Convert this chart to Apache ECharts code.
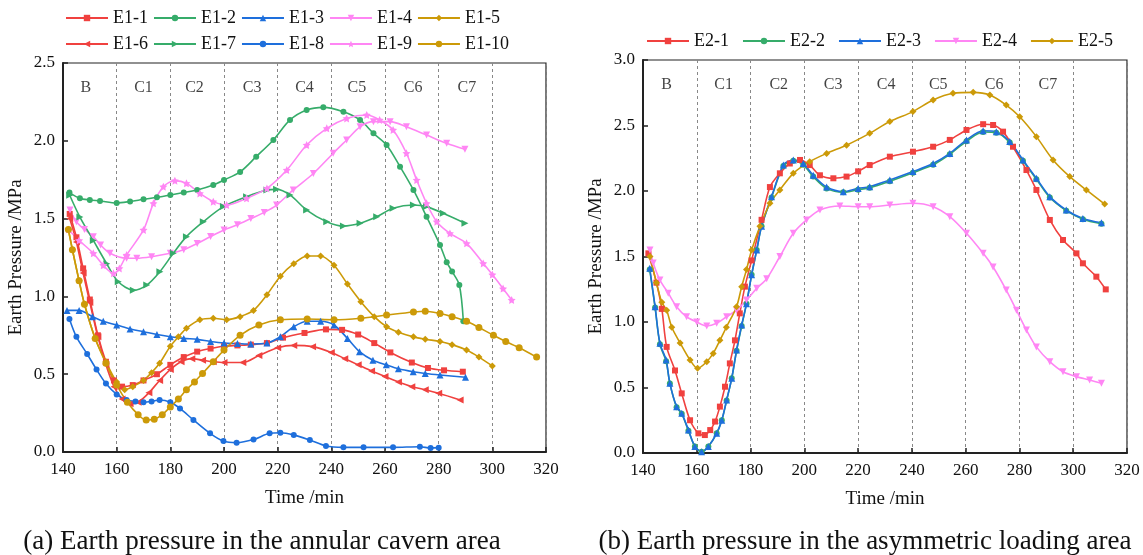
<!DOCTYPE html>
<html>
<head>
<meta charset="utf-8">
<script src="https://cdn.jsdelivr.net/npm/echarts@6/dist/echarts.min.js"></script>
<style>
  html, body { margin: 0; padding: 0; background: #fff; }
  #chart { width: 1143px; height: 555px; }
</style>
</head>
<body>
<div id="chart"></div>
<script>
// tick / region labels
var regionNames = ['B', 'C1', 'C2', 'C3', 'C4', 'C5', 'C6', 'C7'];
var regionPosA = [148.5, 170, 189, 210.5, 230, 249.5, 270.5, 290.5];
var regionPosB = [148.8, 170, 190.5, 210.7, 230.4, 249.8, 270.6, 290.6];

// (a) annular cavern area  [time min, pressure MPa]
var e1_1 = [[142.5,1.53],[145,1.38],[147.5,1.18],[150,0.98],[153,0.75],[156,0.58],[159,0.46],[162,0.42],[166,0.43],[170,0.46],[175,0.50],[180,0.56],[185,0.61],[190,0.645],[195,0.665],[200,0.68],[205,0.685],[210,0.69],[216,0.70],[222,0.735],[230,0.765],[238,0.788],[244,0.785],[250,0.755],[256,0.70],[262,0.64],[270,0.575],[276,0.54],[282,0.525],[289,0.516]];
var e1_2 = [[142.4,1.667],[146.3,1.63],[150,1.62],[153.8,1.613],[160,1.60],[165,1.61],[170,1.624],[175,1.637],[180,1.652],[185,1.668],[190,1.684],[196,1.716],[200,1.748],[206,1.80],[212,1.898],[218.4,2.005],[224.6,2.134],[230.8,2.198],[237,2.215],[244.5,2.187],[250.7,2.134],[255.7,2.048],[260.6,1.973],[265.6,1.834],[270.6,1.684],[275.5,1.512],[280.5,1.33],[283,1.22],[285,1.16],[287.7,1.073],[289.2,0.84]];
var e1_3 = [[141.5,0.91],[146,0.91],[151,0.87],[155,0.84],[160,0.816],[165,0.79],[170,0.773],[175,0.755],[180,0.741],[185,0.73],[190,0.724],[195,0.71],[200,0.70],[205,0.697],[210,0.694],[216,0.70],[221,0.741],[226,0.805],[231,0.84],[236,0.84],[241,0.816],[246,0.73],[250.5,0.645],[255.5,0.59],[260.5,0.56],[265,0.535],[270.5,0.516],[275,0.505],[280.5,0.495],[290,0.48]];
var e1_4 = [[142.6,1.555],[145,1.48],[148,1.43],[151.3,1.384],[154,1.33],[157.5,1.277],[163.7,1.245],[167.5,1.245],[173,1.255],[180,1.277],[185,1.30],[190,1.34],[195,1.385],[200,1.427],[205,1.46],[210,1.50],[215,1.54],[219.6,1.587],[225.8,1.684],[233.3,1.79],[240.7,1.92],[245.7,2.005],[250.7,2.09],[255.7,2.123],[261.9,2.123],[268,2.09],[275.5,2.037],[283,1.984],[289.8,1.945]];
var e1_5 = [[142,1.43],[143.5,1.30],[146,1.10],[148,0.95],[152,0.73],[156,0.58],[160,0.45],[163,0.40],[166,0.42],[170,0.46],[173,0.51],[176,0.57],[180,0.68],[183,0.74],[186,0.795],[191,0.85],[196,0.86],[201,0.85],[206,0.87],[211,0.91],[216,1.01],[221,1.13],[226,1.21],[231,1.26],[236,1.26],[241,1.20],[246,1.08],[251,0.966],[256,0.87],[260.6,0.805],[265,0.77],[270.6,0.74],[275,0.725],[280.5,0.71],[285,0.69],[290.4,0.655],[295,0.61],[300,0.553]];
var e1_6 = [[142.5,1.50],[145,1.35],[147.5,1.15],[150,0.96],[153,0.74],[156,0.56],[159,0.42],[162,0.34],[165,0.31],[168,0.32],[172,0.38],[176,0.46],[180,0.53],[184,0.58],[188,0.60],[192,0.59],[196,0.58],[200,0.575],[207,0.575],[213,0.62],[220,0.67],[226,0.685],[233,0.677],[240,0.64],[245,0.60],[250,0.56],[255,0.52],[260,0.485],[265,0.45],[270,0.42],[275,0.40],[280,0.377],[288,0.334]];
var e1_7 = [[142.5,1.65],[146.3,1.51],[151.3,1.36],[156.3,1.21],[160.6,1.094],[166.2,1.04],[171.2,1.073],[176.1,1.159],[181.1,1.277],[186,1.384],[192.3,1.48],[199.8,1.577],[208.4,1.641],[216,1.684],[219.6,1.688],[224.6,1.652],[230.8,1.555],[238.3,1.48],[244.5,1.452],[250.7,1.47],[256.9,1.512],[263,1.566],[270.6,1.587],[275.5,1.577],[281.7,1.534],[289.8,1.47]];
var e1_8 = [[142.4,0.855],[145,0.74],[149,0.63],[152.5,0.53],[156,0.44],[160,0.37],[163.7,0.334],[167,0.325],[170,0.32],[173,0.325],[176,0.334],[180,0.32],[183.6,0.28],[188.6,0.206],[194.8,0.12],[199.8,0.07],[204.7,0.06],[211,0.08],[217,0.12],[221,0.124],[226,0.11],[232,0.077],[238,0.039],[244.5,0.03],[252,0.03],[263,0.03],[273,0.034],[277,0.025],[280,0.028]];
var e1_9 = [[142,1.43],[146,1.36],[151.3,1.277],[155,1.20],[158.8,1.148],[161,1.18],[163.7,1.266],[170,1.427],[173.7,1.598],[177.4,1.705],[181.7,1.744],[186,1.727],[191,1.662],[196,1.609],[201,1.587],[208.4,1.63],[216,1.694],[223.4,1.812],[230.8,1.973],[238.3,2.08],[245.7,2.144],[253.2,2.166],[258,2.134],[263,2.07],[268,1.92],[271.8,1.748],[275.5,1.598],[279.3,1.48],[284.2,1.405],[290.4,1.341],[296.6,1.212],[300,1.14],[304,1.05],[307.2,0.977]];
var e1_10 = [[142,1.43],[143.5,1.30],[146,1.10],[148,0.95],[152,0.73],[156,0.57],[160,0.43],[164,0.32],[168,0.24],[171,0.205],[174,0.21],[177,0.24],[180,0.29],[183,0.34],[186,0.40],[189,0.45],[192,0.505],[196,0.58],[200,0.655],[206,0.75],[213,0.816],[221,0.85],[231,0.855],[241,0.85],[251,0.86],[260.6,0.88],[270.6,0.90],[275,0.905],[280.5,0.89],[285,0.87],[290.4,0.84],[295,0.80],[300.4,0.75],[305,0.71],[310,0.67],[316.5,0.61]];

// (b) asymmetric loading area
var e2_1 = [[142,1.524],[145,1.30],[147,1.10],[148.8,0.81],[151.9,0.63],[154.4,0.455],[157.5,0.25],[160.6,0.15],[163,0.137],[165,0.175],[166.8,0.24],[168.6,0.354],[170.5,0.506],[172.3,0.684],[174.2,0.86],[176,1.066],[177.9,1.27],[180.4,1.47],[184.1,1.78],[187.2,2.03],[190.9,2.135],[194.6,2.21],[198.4,2.237],[202,2.198],[205.8,2.12],[210.8,2.097],[215.7,2.11],[220,2.15],[224.3,2.198],[231.8,2.262],[240.4,2.30],[247.9,2.338],[254.1,2.39],[260.3,2.466],[266.5,2.51],[270.2,2.504],[273.9,2.453],[277.6,2.338],[282.6,2.16],[286.3,2.008],[291.3,1.779],[296.2,1.626],[301.2,1.524],[303.6,1.448],[308.6,1.346],[312.1,1.249]];
var e2_2 = [[142.5,1.40],[144.5,1.11],[146.3,0.83],[148.6,0.70],[150,0.53],[152.5,0.35],[154.4,0.30],[156.9,0.17],[159.3,0.05],[161.8,0.01],[164.3,0.05],[167.4,0.15],[169.3,0.25],[171.1,0.40],[173,0.57],[174.8,0.78],[176.7,0.97],[178.5,1.14],[180.4,1.36],[182.3,1.55],[184.1,1.73],[187.8,1.95],[192.2,2.19],[195.9,2.23],[199.6,2.20],[203.3,2.11],[208.3,2.02],[214.5,1.99],[220,2.01],[224.3,2.025],[231.8,2.075],[240.4,2.14],[247.9,2.20],[254.1,2.28],[260.3,2.38],[266.5,2.45],[271.4,2.445],[276.4,2.37],[281.3,2.23],[286.3,2.09],[291.3,1.95],[297.4,1.85],[303.6,1.785],[310.5,1.75]];
var e2_3 = [[142.5,1.41],[144.5,1.117],[146.3,0.837],[148.6,0.71],[150,0.532],[152.5,0.354],[154.4,0.303],[156.9,0.176],[159.3,0.05],[161.8,0.01],[164.3,0.05],[167.4,0.15],[169.3,0.25],[171.1,0.405],[173,0.57],[174.8,0.786],[176.7,0.977],[178.5,1.14],[180.4,1.36],[182.3,1.55],[184.1,1.73],[187.8,1.957],[192.2,2.198],[195.9,2.237],[199.6,2.21],[203.3,2.12],[208.3,2.03],[214.5,1.995],[220,2.02],[224.3,2.033],[231.8,2.084],[240.4,2.148],[247.9,2.21],[254.1,2.287],[260.3,2.39],[266.5,2.46],[271.4,2.453],[276.4,2.377],[281.3,2.237],[286.3,2.097],[291.3,1.957],[297.4,1.855],[303.6,1.79],[310.5,1.757]];
var e2_4 = [[142.6,1.55],[143.8,1.45],[146.3,1.32],[149.4,1.22],[152.5,1.117],[156.2,1.04],[160,1.0],[163.7,0.97],[167.4,0.99],[171.1,1.04],[174.8,1.09],[178.5,1.168],[182.3,1.257],[186,1.33],[190.9,1.50],[195.9,1.677],[200.8,1.779],[205.8,1.855],[213.2,1.886],[220,1.88],[224.3,1.88],[231.8,1.893],[240.4,1.906],[247.9,1.88],[254.1,1.804],[260.3,1.677],[266.5,1.524],[270.2,1.42],[275.1,1.244],[278.9,1.09],[282.6,0.939],[286.3,0.81],[291.3,0.697],[296.2,0.62],[301.2,0.583],[306.1,0.557],[310.5,0.532]];
var e2_5 = [[142.6,1.50],[145,1.30],[147,1.15],[148.8,1.09],[150.7,0.96],[153.8,0.84],[157.5,0.71],[160.3,0.646],[163.7,0.697],[166.1,0.76],[168.6,0.86],[171,0.96],[174.8,1.117],[176.7,1.27],[178.5,1.40],[180.4,1.55],[183.5,1.73],[187.2,1.906],[190.9,2.008],[195.9,2.135],[202,2.224],[208.3,2.287],[215.7,2.35],[224.3,2.44],[231.8,2.53],[240.4,2.606],[247.9,2.695],[255.3,2.746],[262.8,2.753],[269,2.733],[275.1,2.656],[280.1,2.567],[286.3,2.415],[292.5,2.237],[298.7,2.11],[304.9,2.008],[311.7,1.90]];

var FONT = '"Liberation Serif", "Times New Roman", serif';
var RED = '#F0413F', GREEN = '#36AC6A', BLUE = '#1E6FDC', PINK = '#FF86F4', GOLD = '#CC9A08';
var STAR = 'path://M0,-10L2.9,-4L9.5,-3.1L4.8,1.5L5.9,8.1L0,5L-5.9,8.1L-4.8,1.5L-9.5,-3.1L-2.9,-4Z';

function line(name, data, color, symbol, rot, idx, size) {
    return {
        name: name,
        type: 'line',
        xAxisIndex: idx,
        yAxisIndex: idx,
        data: data,
        smooth: 0.3,
        symbol: symbol,
        symbolRotate: rot,
        symbolSize: size || 6,
        showSymbol: true,
        animation: false,
        lineStyle: { color: color, width: 1.6 },
        itemStyle: { color: color }
    };
}

function regionLabels(names, pos, y, idx) {
    var d = [];
    for (var i = 0; i < names.length; i++) d.push([pos[i], y, names[i]]);
    return {
        type: 'scatter',
        xAxisIndex: idx,
        yAxisIndex: idx,
        data: d,
        symbolSize: 1,
        silent: true,
        animation: false,
        itemStyle: { color: 'rgba(0,0,0,0)' },
        label: {
            show: true,
            position: 'inside',
            formatter: function (p) { return p.value[2]; },
            fontFamily: FONT,
            fontSize: 16,
            color: '#111'
        }
    };
}

function xAx(idx) {
    return {
        type: 'value',
        gridIndex: idx,
        min: 140, max: 320, interval: 20,
        name: 'Time /min',
        nameLocation: 'middle',
        nameGap: 37,
        nameTextStyle: { fontFamily: FONT, fontSize: 19, color: '#111' },
        axisLine: { lineStyle: { color: '#222', width: 2 } },
        axisTick: { inside: true, length: 5, lineStyle: { color: '#222', width: 1.5 } },
        axisLabel: { fontFamily: FONT, fontSize: 17, color: '#111', margin: 9 },
        splitLine: { show: true, lineStyle: { color: '#888', type: [3, 3], width: 1 } }
    };
}

function yAx(idx, max) {
    return {
        type: 'value',
        gridIndex: idx,
        min: 0, max: max, interval: 0.5,
        name: 'Earth Pressure /MPa',
        nameLocation: 'middle',
        nameGap: 37,
        nameTextStyle: { fontFamily: FONT, fontSize: 19, color: '#111' },
        axisLine: { show: true, lineStyle: { color: '#222', width: 2 } },
        axisTick: { show: true, inside: true, length: 5, lineStyle: { color: '#222', width: 1.5 } },
        axisLabel: { fontFamily: FONT, fontSize: 17, color: '#111', margin: 8,
            formatter: function (v) { return v.toFixed(1); } },
        splitLine: { show: false }
    };
}

function legend(names, left, top, gap) {
    return {
        data: names,
        left: left, top: top,
        itemWidth: 42, itemHeight: 8, itemGap: gap,
        textStyle: { fontFamily: FONT, fontSize: 18, color: '#111' }
    };
}

var chart = echarts.init(document.getElementById('chart'));
var option = {
    backgroundColor: '#fff',
    animation: false,
    legend: [
        legend(['E1-1', 'E1-2', 'E1-3', 'E1-4', 'E1-5'], 60, 4, 5),
        legend(['E1-6', 'E1-7', 'E1-8', 'E1-9', 'E1-10'], 60, 30, 5),
        legend(['E2-1', 'E2-2', 'E2-3', 'E2-4', 'E2-5'], 641, 27, 13)
    ],
    grid: [
        { left: 63, top: 63, width: 483, height: 389, show: true, borderColor: '#222', borderWidth: 1.2, containLabel: false },
        { left: 643, top: 60, width: 484, height: 393, show: true, borderColor: '#222', borderWidth: 1.2, containLabel: false }
    ],
    xAxis: [xAx(0), xAx(1)],
    yAxis: [yAx(0, 2.5), yAx(1, 3.0)],
    graphic: [
        { type: 'text', x: 262, y: 542, style: { text: '(a) Earth pressure in the annular cavern area', font: '27px ' + FONT, fill: '#111', align: 'center', verticalAlign: 'middle' } },
        { type: 'text', x: 865, y: 542, style: { text: '(b) Earth pressure in the asymmetric loading area', font: '27px ' + FONT, fill: '#111', align: 'center', verticalAlign: 'middle' } }
    ],
    series: [
        regionLabels(regionNames, regionPosA, 2.34, 0),
        regionLabels(regionNames, regionPosB, 2.81, 1),
        line('E1-1', e1_1, RED, 'rect', 0, 0),
        line('E1-2', e1_2, GREEN, 'circle', 0, 0),
        line('E1-3', e1_3, BLUE, 'triangle', 0, 0, 7),
        line('E1-4', e1_4, PINK, 'triangle', 180, 0, 7),
        line('E1-5', e1_5, GOLD, 'diamond', 0, 0, 7),
        line('E1-6', e1_6, RED, 'triangle', 90, 0, 7),
        line('E1-7', e1_7, GREEN, 'triangle', -90, 0, 7),
        line('E1-8', e1_8, BLUE, 'circle', 0, 0),
        line('E1-9', e1_9, PINK, STAR, 0, 0, 8),
        line('E1-10', e1_10, GOLD, 'circle', 0, 0, 7),
        line('E2-2', e2_2, GREEN, 'circle', 0, 1),
        line('E2-1', e2_1, RED, 'rect', 0, 1),
        line('E2-3', e2_3, BLUE, 'triangle', 0, 1, 7),
        line('E2-4', e2_4, PINK, 'triangle', 180, 1, 7),
        line('E2-5', e2_5, GOLD, 'diamond', 0, 1, 7)
    ]
};
chart.setOption(option);
</script>
</body>
</html>
